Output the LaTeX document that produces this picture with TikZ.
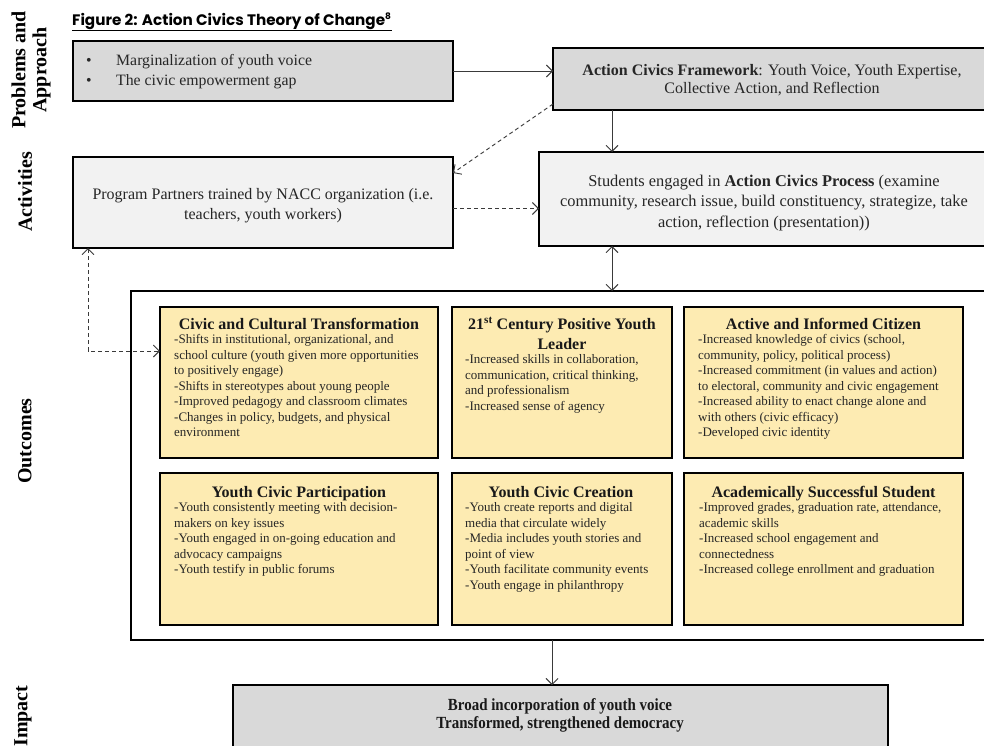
\documentclass[tikz,border=0pt]{standalone}
\usepackage{fontspec}
\setmainfont{Liberation Serif}
\newfontfamily\titlefont{Poppins}
\usepackage{graphicx}
\usetikzlibrary{arrows.meta,calc}
\definecolor{boxgray}{HTML}{D9D9D9}
\definecolor{boxlight}{HTML}{F2F2F2}
\definecolor{boxyellow}{HTML}{FDEBB2}
\definecolor{linegray}{HTML}{3A3A3A}
\newcommand\hstrut[1]{\rule{0pt}{#1pt}}
\begin{document}
\begin{tikzpicture}[x=1pt,y=-1pt,
  box/.style={draw=black, line width=2.4pt, anchor=north west, inner sep=0pt, outer sep=0pt},
  arr/.style={draw=linegray, line width=0.9pt, -{Straight Barb[length=6pt,width=12pt]}},
  dblarr/.style={draw=linegray, line width=0.9pt, {Straight Barb[length=6pt,width=12pt]}-{Straight Barb[length=6pt,width=12pt]}},
  dasharr/.style={arr, dash pattern=on 4pt off 3pt},
  dashdbl/.style={dblarr, dash pattern=on 4pt off 3pt},
  side/.style={font=\fontsize{20}{21}\selectfont\bfseries, rotate=90, align=center, inner sep=0pt},
  mid/.style={font=\fontsize{16}{20}\selectfont, align=center, inner sep=0pt, text=black!85},
  otitle/.style={font=\fontsize{16}{20}\selectfont\bfseries, align=center, inner sep=0pt, text=black!90},
  obody/.style={font=\fontsize{13}{15.5}\selectfont, align=left, inner sep=0pt, anchor=north west, text=black!85},
]
\useasboundingbox (0,0) rectangle (984,745);
\clip (0,0) rectangle (984,745);
\fill[white] (0,0) rectangle (984,745);

% title
\node[anchor=base west, inner sep=0pt, font=\titlefont\bfseries\fontsize{15.2}{17}\selectfont] (title) at (72,25)
  {\underline{Figure 2: Action Civics Theory of Change\textsuperscript{\fontsize{9}{9}\selectfont 8}}};

% side labels
\node[side] (lprob) at (31,70) {Problems and\\Approach};
\node[side] (lact) at (25,192) {Activities};
\node[side] (lout) at (25,441) {Outcomes};
\node[side] (limp) at (23,716) {Impact};

% boxes
\node[box, fill=boxgray, minimum width=380pt, minimum height=60pt] (pb) at (73,41) {};
\node[box, fill=boxgray, minimum width=438pt, minimum height=62pt] (fw) at (553,48) {};
\node[box, fill=boxlight, minimum width=380pt, minimum height=91pt] (pp) at (73,157) {};
\node[box, fill=boxlight, minimum width=450pt, minimum height=94pt] (st) at (539,152) {};
\node[box, fill=white, minimum width=864pt, minimum height=349pt] (out) at (131,291) {};
\node[box, fill=boxyellow, minimum width=278pt, minimum height=151pt] (cct) at (160,307) {};
\node[box, fill=boxyellow, minimum width=220pt, minimum height=151pt] (pyl) at (452,307) {};
\node[box, fill=boxyellow, minimum width=279pt, minimum height=151pt] (aic) at (684,307) {};
\node[box, fill=boxyellow, minimum width=278pt, minimum height=152pt] (ycp) at (160,473) {};
\node[box, fill=boxyellow, minimum width=220pt, minimum height=152pt] (ycc) at (452,473) {};
\node[box, fill=boxyellow, minimum width=279pt, minimum height=152pt] (ass) at (684,473) {};
\node[box, fill=boxgray, minimum width=655pt, minimum height=80pt] (imp) at (233,685) {};

% texts
\node[anchor=north west, inner sep=0pt, align=left, font=\fontsize{15.8}{20}\selectfont, text=black!85] (pbt) at (86,53)
  {\hstrut{12}\makebox[30pt][l]{•}Marginalization of youth voice\\\makebox[30pt][l]{•}The civic empowerment gap};
\node[mid, anchor=north] (fwt) at (772,63)
  {\hstrut{12}\textbf{Action Civics Framework}: Youth Voice, Youth Expertise,\\[-2pt]Collective Action, and Reflection};
\node[mid, anchor=north] (ppt) at (263,187)
  {\hstrut{12}Program Partners trained by NACC organization (i.e.\\teachers, youth workers)};
\node[mid, anchor=north, font=\fontsize{16.4}{20.5}\selectfont] (stt) at (764,174)
  {\hstrut{12}Students engaged in \textbf{Action Civics Process} (examine\\community, research issue, build constituency, strategize, take\\action, reflection (presentation))};

\node[otitle, anchor=base] (cctt) at (299,329) {Civic and Cultural Transformation};
\node[obody] (cctb) at (174,333.5) {\hstrut{10}-Shifts in institutional, organizational, and\\school culture (youth given more opportunities\\to positively engage)\\-Shifts in stereotypes about young people\\-Improved pedagogy and classroom climates\\-Changes in policy, budgets, and physical\\environment};

\node[otitle, anchor=north] (pylt) at (562,317) {\hstrut{12}21\textsuperscript{st} Century Positive Youth\\Leader};
\node[obody] (pylb) at (465,353.5) {\hstrut{10}-Increased skills in collaboration,\\communication, critical thinking,\\and professionalism\\-Increased sense of agency};

\node[otitle, anchor=base] (aict) at (823.5,329) {Active and Informed Citizen};
\node[obody] (aicb) at (698,333.5) {\hstrut{10}-Increased knowledge of civics (school,\\community, policy, political process)\\-Increased commitment (in values and action)\\to electoral, community and civic engagement\\-Increased ability to enact change alone and\\with others (civic efficacy)\\-Developed civic identity};

\node[otitle, anchor=base] (ycpt) at (299,497) {Youth Civic Participation};
\node[obody] (ycpb) at (174,501.5) {\hstrut{10}-Youth consistently meeting with decision-\\makers on key issues\\-Youth engaged in on-going education and\\advocacy campaigns\\-Youth testify in public forums};

\node[otitle, anchor=base] (ycct) at (561,497) {Youth Civic Creation};
\node[obody] (yccb) at (465,501.5) {\hstrut{10}-Youth create reports and digital\\media that circulate widely\\-Media includes youth stories and\\point of view\\-Youth facilitate community events\\-Youth engage in philanthropy};

\node[otitle, anchor=base] (asst) at (823.5,497) {Academically Successful Student};
\node[obody] (assb) at (699,501.5) {\hstrut{10}-Improved grades, graduation rate, attendance,\\academic skills\\-Increased school engagement and\\connectedness\\-Increased college enrollment and graduation};

\node[anchor=north, inner sep=0pt, align=center, font=\fontsize{17}{18}\selectfont\bfseries, text=black!90] (impt) at (560,698)
  {\hstrut{12}\scalebox{0.88}[1]{Broad incorporation of youth voice}\\\scalebox{0.88}[1]{Transformed, strengthened democracy}};

% connectors
\coordinate (xa) at (612,0);
\coordinate (xb) at (552,0);
\coordinate (ppe) at ($(pp.east)+(0,6)$);
\coordinate (fwd) at ($(fw.south west)+(0,-6)$);
\coordinate (ppd) at ($(pp.north east)+(0,16)$);
\coordinate (ppb) at ($(pp.south west)+(15,0)$);
\coordinate (corner) at ($(pp.south west)+(15,103)$);
\draw[arr] (pb.east) -- (pb.east -| fw.west);
\draw[arr] (fw.south -| xa) -- (st.north -| xa);
\draw[dblarr] (st.south -| xa) -- (out.north -| xa);
\draw[dasharr] (fwd) -- (ppd);
\draw[dasharr] (ppe) -- (ppe -| st.west);
\draw[dashdbl] (ppb) -- (corner) -- (corner -| cct.west);
\draw[arr] (out.south -| xb) -- (imp.north -| xb);
\end{tikzpicture}
\end{document}
